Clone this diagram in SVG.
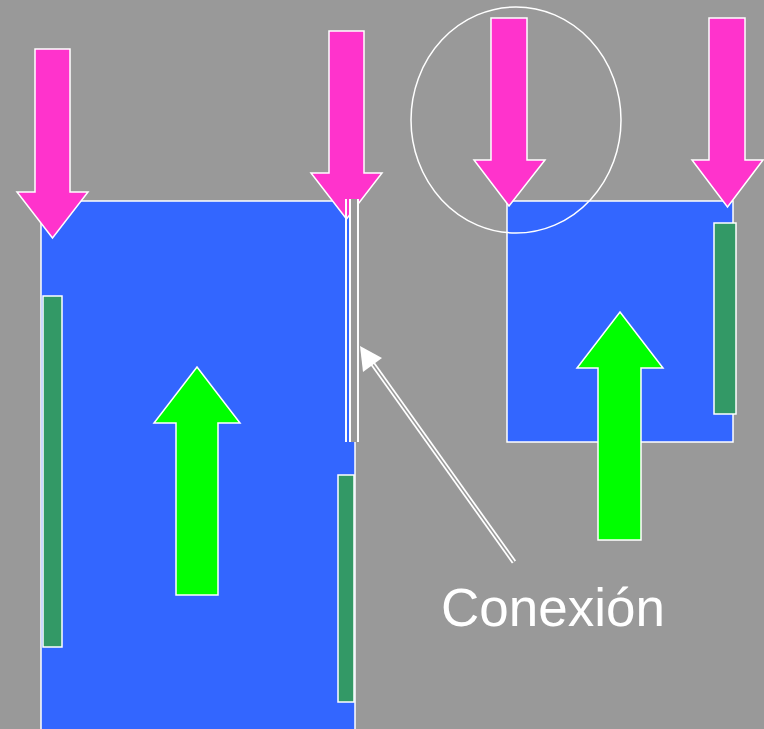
<svg xmlns="http://www.w3.org/2000/svg" width="764" height="729" viewBox="0 0 764 729">
<style>
.blue{fill:#3366FF;stroke:#FFFFFF;stroke-width:1.5}
.pink{fill:#FF33CC;stroke:#FFFFFF;stroke-width:1.5}
.lime{fill:#00FF00;stroke:#FFFFFF;stroke-width:1.5}
.bar{fill:#339966;stroke:#FFFFFF;stroke-width:1.5}
.wl{stroke:#FFFFFF;stroke-width:2;fill:none}
</style>
<rect width="764" height="729" fill="#999999"/>
<g id="block-left">
<rect class="blue" x="41" y="201" width="314" height="540"/>
</g>
<g id="block-right">
<rect class="blue" x="507" y="201" width="226" height="241"/>
</g>
<g id="bar-left-1"><rect class="bar" x="43" y="296" width="19" height="351"/></g>
<g id="bar-left-2"><rect class="bar" x="338" y="475" width="16" height="227"/></g>
<g id="bar-right"><rect class="bar" x="714" y="223" width="22" height="191"/></g>
<g id="up-arrow-left"><polygon class="lime" points="176,595 218,595 218,423 240,423 197,367 154,423 176,423"/></g>
<g id="up-arrow-right"><polygon class="lime" points="598,540 641,540 641,368 663,368 620,312 577,368 598,368"/></g>
<g id="down-arrow-1"><polygon class="pink" points="35,49 70,49 70,192 88,192 52.5,238 17,192 35,192"/></g>
<g id="down-arrow-2"><polygon class="pink" points="329,31 364,31 364,173 382,173 346.5,219 311,173 329,173"/></g>
<g id="down-arrow-3"><polygon class="pink" points="491,18 527,18 527,160 545,160 509,206 474,160 491,160"/></g>
<g id="down-arrow-4"><polygon class="pink" points="709,18 745,18 745,160 763,160 727.5,207 692,160 709,160"/></g>
<g id="highlight-circle"><ellipse cx="516" cy="120" rx="105" ry="113" fill="none" stroke="#FFFFFF" stroke-width="1.5"/></g>
<g id="connectors">
<rect x="351" y="199" width="6" height="243" fill="#999999"/>
<line class="wl" x1="346" y1="199" x2="346" y2="442"/>
<line class="wl" x1="350" y1="199" x2="350" y2="442"/>
<line class="wl" x1="358" y1="199" x2="358" y2="442"/>
<line x1="514" y1="562" x2="370" y2="360" stroke="#FFFFFF" stroke-width="5"/>
<line x1="514" y1="562" x2="370" y2="360" stroke="#999999" stroke-width="1.5"/>
<polygon points="360,346 382,358 363,372" fill="#FFFFFF"/>
</g>
<g id="label"><text x="441" y="626" font-family="Liberation Sans, Arial, sans-serif" font-size="53" fill="#FFFFFF">Conexión</text></g>
</svg>
